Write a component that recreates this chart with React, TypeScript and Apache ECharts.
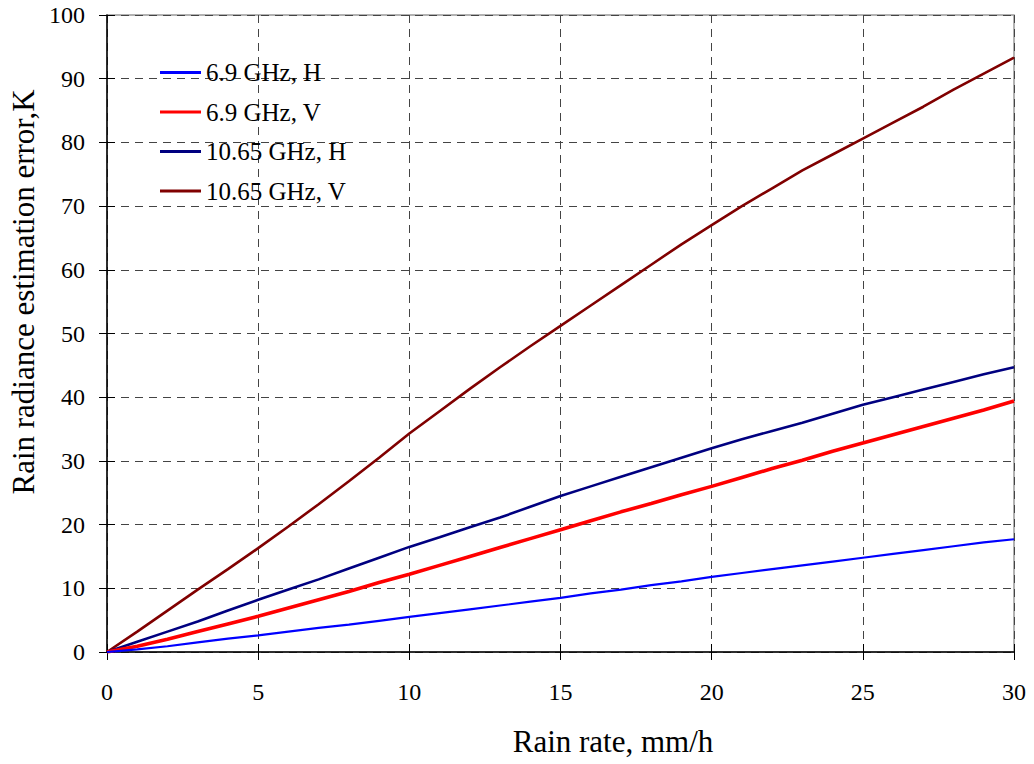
import React, { useEffect, useRef } from "react";
import * as echarts from "echarts";

const rainRate = [0, 1, 2, 3, 4, 5, 6, 7, 8, 9, 10, 11, 12, 13, 14, 15, 16, 17, 18, 19, 20, 21, 22, 23, 24, 25, 26, 27, 28, 29, 30];
const h69 = [0, 0.4, 0.9, 1.5, 2.1, 2.6, 3.2, 3.8, 4.3, 4.9, 5.5, 6.1, 6.7, 7.3, 7.9, 8.5, 9.2, 9.8, 10.5, 11.1, 11.8, 12.4, 13.0, 13.6, 14.2, 14.8, 15.4, 16.0, 16.6, 17.2, 17.7];
const v69 = [0, 0.9, 2.0, 3.2, 4.4, 5.6, 6.9, 8.2, 9.5, 10.9, 12.2, 13.6, 15.0, 16.4, 17.8, 19.2, 20.6, 22.0, 23.3, 24.7, 26.0, 27.4, 28.8, 30.1, 31.5, 32.8, 34.1, 35.4, 36.7, 38.0, 39.4];
const h1065 = [0, 1.6, 3.2, 4.8, 6.5, 8.2, 9.8, 11.4, 13.1, 14.8, 16.5, 18.0, 19.6, 21.1, 22.8, 24.5, 26.0, 27.5, 29.0, 30.5, 32.0, 33.4, 34.7, 36.0, 37.4, 38.8, 40.0, 41.2, 42.4, 43.6, 44.7];
const v1065 = [0, 3.2, 6.5, 9.8, 13.0, 16.3, 19.7, 23.2, 26.8, 30.5, 34.3, 37.8, 41.3, 44.7, 48.0, 51.2, 54.4, 57.6, 60.8, 64.0, 67.0, 70.0, 72.8, 75.6, 78.1, 80.6, 83.1, 85.6, 88.3, 90.8, 93.3];

const seriesNames = ["6.9 GHz, H", "6.9 GHz, V", "10.65 GHz, H", "10.65 GHz, V"];
const seriesData = [h69, v69, h1065, v1065];
const colors = ["#0000FF", "#FF0000", "#000080", "#800000"];
const widths = [2.2, 3.6, 2.6, 2.6];

const xTitle = "Rain rate, mm/h";
const yTitle = "Rain radiance estimation error,K";

const font = "'Liberation Serif', 'Times New Roman', serif";

export default function App() {
  const ref = useRef<HTMLDivElement>(null);
  useEffect(() => {
    const chart = echarts.init(ref.current!, null, { renderer: "svg" });
    const splitStyle = { color: "#444", type: [8, 6], width: 1 };
    chart.setOption({
      animation: false,
      backgroundColor: "#fff",
      textStyle: { fontFamily: font },
      grid: { left: 107, right: 20, top: 15, bottom: 112, show: true, borderColor: "#999", borderWidth: 1.5 },
      legend: {
        orient: "vertical",
        left: 155,
        top: 55,
        icon: "rect",
        itemWidth: 41,
        itemHeight: 3,
        itemGap: 14.5,
        data: seriesNames,
        textStyle: { fontFamily: font, fontSize: 25, color: "#000" },
      },
      graphic: [
        {
          type: "text",
          x: 613,
          y: 741,
          style: { text: xTitle, fontFamily: font, fontSize: 31, fill: "#000", align: "center", verticalAlign: "middle" },
        },
        {
          type: "text",
          x: 23,
          y: 292,
          rotation: Math.PI / 2,
          style: { text: yTitle, fontFamily: font, fontSize: 31, fill: "#000", align: "center", verticalAlign: "middle" },
        },
      ],
      xAxis: [
        {
          type: "value",
          min: 0,
          max: 30,
          interval: 5,
          axisLine: { lineStyle: { color: "#000", width: 1.5 } },
          axisTick: { show: true, length: 8, lineStyle: { color: "#000" } },
          axisLabel: { fontFamily: font, fontSize: 24, color: "#000", margin: 28 },
          splitLine: { show: true, lineStyle: splitStyle },
        },
        {
          type: "value",
          min: 0,
          max: 30,
          interval: 5,
          position: "bottom",
          axisLine: { show: false },
          axisTick: { show: true, inside: true, length: 8, lineStyle: { color: "#000" } },
          axisLabel: { show: false },
          splitLine: { show: false },
        },
      ],
      yAxis: [
        {
          type: "value",
          min: 0,
          max: 100,
          interval: 10,
          axisLine: { show: true, lineStyle: { color: "#000", width: 1.5 } },
          axisTick: { show: true, length: 8, lineStyle: { color: "#000" } },
          axisLabel: { fontFamily: font, fontSize: 24, color: "#000", margin: 22 },
          splitLine: { show: true, lineStyle: splitStyle },
        },
        {
          type: "value",
          min: 0,
          max: 100,
          interval: 10,
          position: "left",
          axisLine: { show: false },
          axisTick: { show: true, inside: true, length: 8, lineStyle: { color: "#000" } },
          axisLabel: { show: false },
          splitLine: { show: false },
        },
      ],
      series: seriesNames.map((name, i) => ({
        name,
        type: "line",
        symbol: "none",
        data: rainRate.map((x, j) => [x, seriesData[i][j]]),
        lineStyle: { color: colors[i], width: widths[i] },
        itemStyle: { color: colors[i] },
        z: 10 - i,
      })),
    });
    return () => chart.dispose();
  }, []);
  return <div ref={ref} style={{ position: "absolute", left: 0, top: 0, width: 1034, height: 764 }} />;
}
